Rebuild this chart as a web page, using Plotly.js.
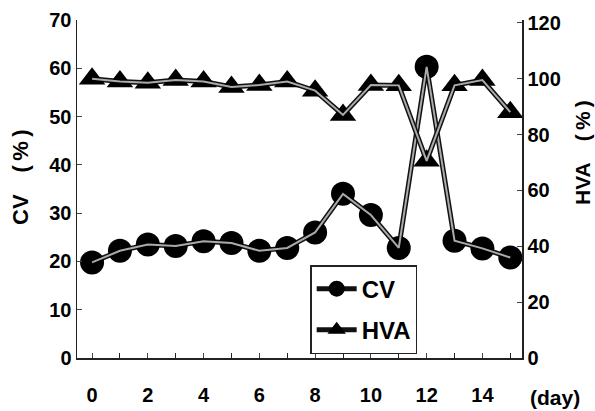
<!DOCTYPE html>
<html>
<head>
<meta charset="utf-8">
<script src="https://cdn.plot.ly/plotly-3.0.1.min.js"></script>
<style>html,body{margin:0;padding:0;background:#fff;}#chart{width:595px;height:411px;}</style>
</head>
<body>
<div id="chart"></div>
<script>
// Data
const days = [0, 1, 2, 3, 4, 5, 6, 7, 8, 9, 10, 11, 12, 13, 14, 15];
const cvValues = [19.8, 22.2, 23.5, 23.2, 24.2, 23.8, 22.2, 22.8, 26.0, 34.0, 29.6, 22.8, 60.3, 24.3, 22.7, 20.8];
const hvaValues = [100.0, 99.0, 98.5, 99.5, 99.0, 97.0, 97.7, 99.0, 95.7, 87.0, 97.7, 97.6, 70.6, 97.6, 99.5, 88.0];
const xTickVals = [0, 2, 4, 6, 8, 10, 12, 14];
const cvTickVals = [0, 10, 20, 30, 40, 50, 60, 70];
const hvaTickVals = [0, 20, 40, 60, 80, 100, 120];

const FONT = '"Liberation Sans", Arial, sans-serif';
const tickFont = {family: FONT, size: 20, color: '#000', weight: 'bold'};

const traces = [
  {
    x: days, y: hvaValues, yaxis: 'y2', name: 'HVA', legendgroup: 'b', legendrank: 2, mode: 'lines+markers',
    line: {color: '#111', width: 5},
    marker: {symbol: 'triangle-up', size: 23, color: '#000'}
  },
  {
    x: days, y: hvaValues, yaxis: 'y2', showlegend: false, mode: 'lines', hoverinfo: 'skip',
    line: {color: '#aaaaaa', width: 2}
  },
  {
    x: days, y: cvValues, name: 'CV', legendgroup: 'a', legendrank: 1, mode: 'lines+markers',
    line: {color: '#111', width: 5},
    marker: {symbol: 'circle', size: 24, color: '#000'}
  },
  {
    x: days, y: cvValues, showlegend: false, mode: 'lines', hoverinfo: 'skip',
    line: {color: '#aaaaaa', width: 2}
  }
];

const layout = {
  width: 595, height: 411,
  margin: {l: 77, r: 73, t: 20, b: 53},
  paper_bgcolor: '#fff', plot_bgcolor: '#fff',
  showlegend: true,
  legend: {
    x: 0.524, y: 0.275, xanchor: 'left', yanchor: 'top',
    bordercolor: '#222', borderwidth: 1.5, bgcolor: '#fff',
    font: {family: FONT, size: 24, color: '#000', weight: 'bold'},
    traceorder: 'grouped', itemwidth: 40, tracegroupgap: 7
  },
  xaxis: {
    range: [-0.54, 15.42], tickvals: xTickVals, ticks: 'inside', ticklen: 5,
    showgrid: false, zeroline: false, showline: true, linecolor: '#222', linewidth: 1.5,
    tickfont: tickFont, ticklabelstandoff: 18,
    minor: {dtick: 1, ticks: 'inside', ticklen: 5, tickcolor: '#222', showgrid: false}
  },
  yaxis: {
    range: [0, 70], tickvals: cvTickVals, ticks: 'inside', ticklen: 5,
    showgrid: false, zeroline: false, showline: true, linecolor: '#222', linewidth: 1.5,
    tickfont: tickFont
  },
  yaxis2: {
    range: [0, 121], tickvals: hvaTickVals, ticks: 'inside', ticklen: 5,
    overlaying: 'y', side: 'right', tickprefix: '\u2002',
    showgrid: false, zeroline: false, showline: true, linecolor: '#222', linewidth: 1.5,
    tickfont: tickFont
  },
  annotations: [
    {text: 'CV\u2003(\u2009%\u2009)', xref: 'paper', yref: 'paper', x: (20 - 77) / 445, y: (358 - 177) / 338,
     xanchor: 'center', yanchor: 'middle',
     showarrow: false, textangle: -90, font: {family: FONT, size: 22, color: '#000', weight: 'bold'}},
    {text: 'HVA\u2003(\u2009%\u2009)', xref: 'paper', yref: 'paper', x: (582 - 77) / 445, y: (358 - 153) / 338,
     xanchor: 'center', yanchor: 'middle',
     showarrow: false, textangle: -90, font: {family: FONT, size: 21, color: '#000', weight: 'bold'}},
    {text: '(day)', xref: 'paper', yref: 'paper', x: (555 - 77) / 445, y: (358 - 397) / 338,
     xanchor: 'center', yanchor: 'middle',
     showarrow: false, font: {family: FONT, size: 21, color: '#000', weight: 'bold'}}
  ]
};

Plotly.newPlot('chart', traces, layout, {displayModeBar: false, staticPlot: true});
</script>
</body>
</html>
